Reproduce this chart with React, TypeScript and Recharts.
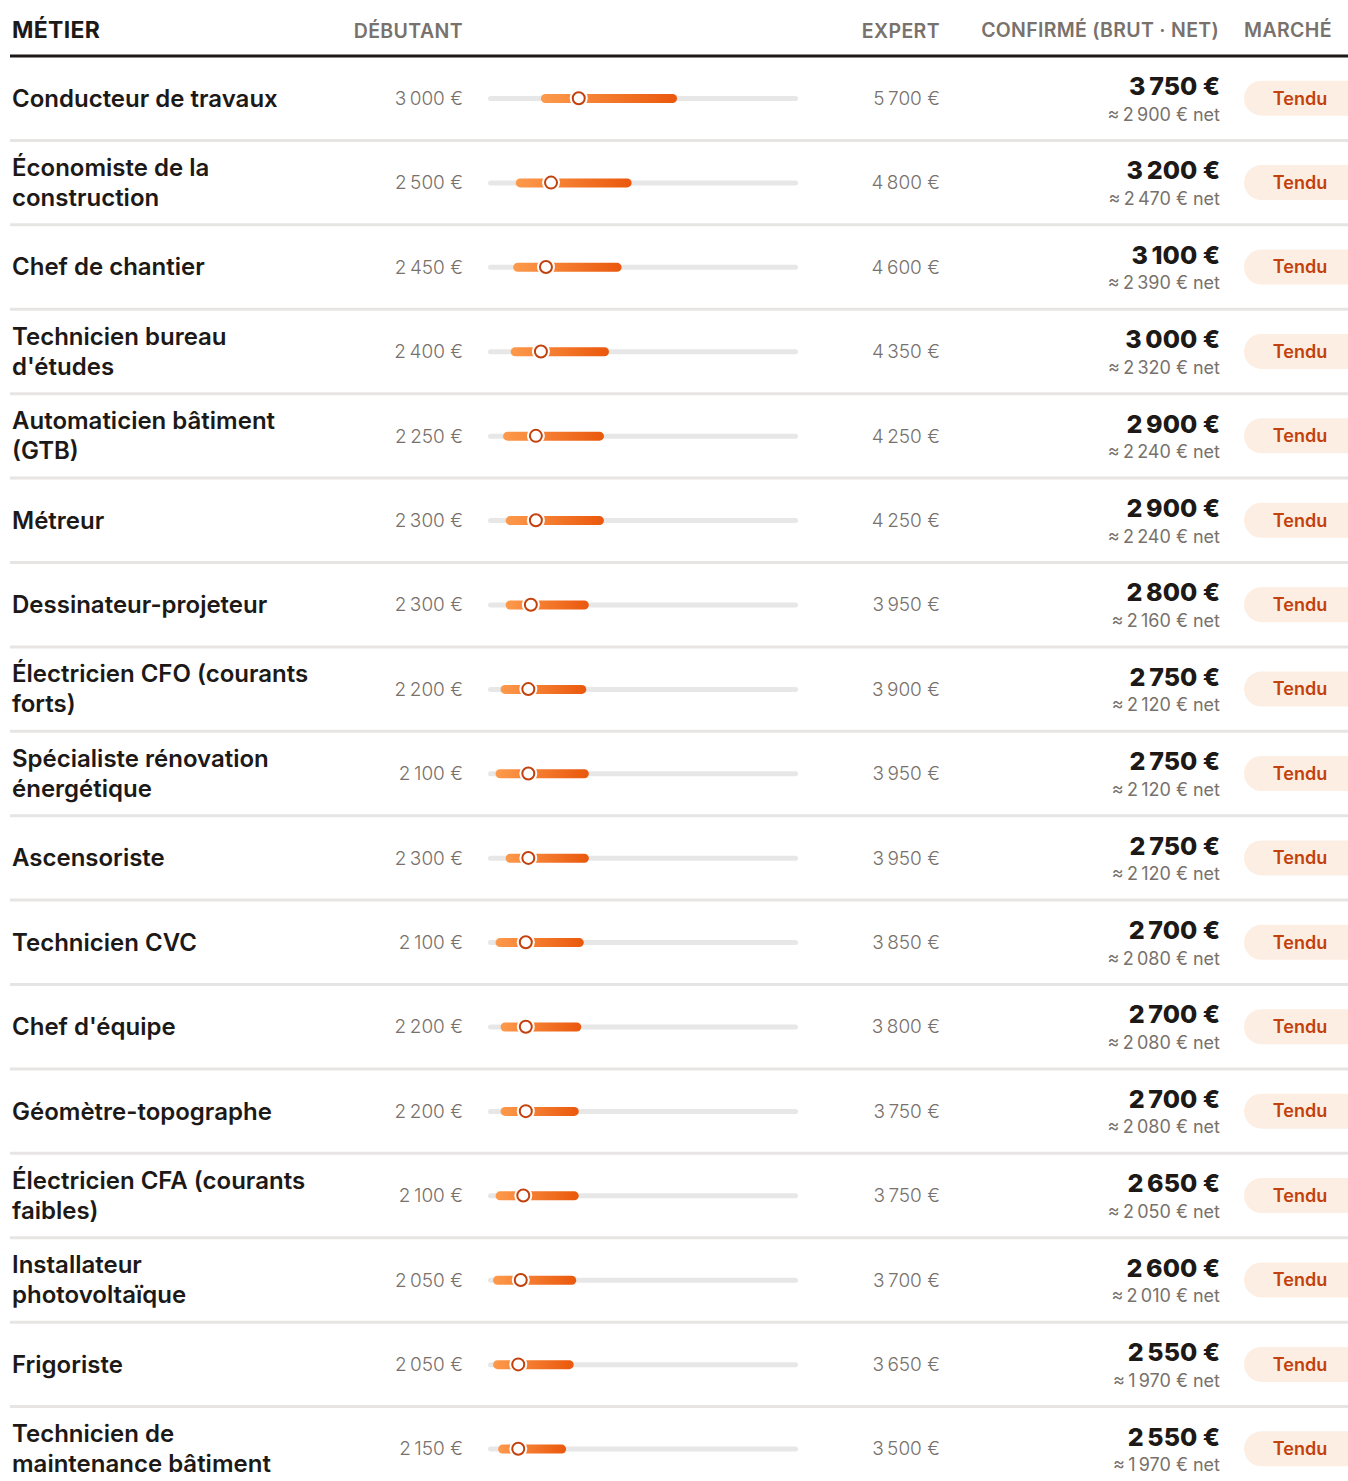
import React from "react";
import { ComposedChart, Bar, Line, XAxis, YAxis } from "recharts";

// salaires bruts mensuels (€)
const metiers = [
  "Conducteur de travaux",
  "Économiste de la construction",
  "Chef de chantier",
  "Technicien bureau d'études",
  "Automaticien bâtiment (GTB)",
  "Métreur",
  "Dessinateur-projeteur",
  "Électricien CFO (courants forts)",
  "Spécialiste rénovation énergétique",
  "Ascensoriste",
  "Technicien CVC",
  "Chef d'équipe",
  "Géomètre-topographe",
  "Électricien CFA (courants faibles)",
  "Installateur photovoltaïque",
  "Frigoriste",
  "Technicien de maintenance bâtiment",
];
const debutant = [3000, 2500, 2450, 2400, 2250, 2300, 2300, 2200, 2100, 2300, 2100, 2200, 2200, 2100, 2050, 2050, 2150];
const expert = [5700, 4800, 4600, 4350, 4250, 4250, 3950, 3900, 3950, 3950, 3850, 3800, 3750, 3750, 3700, 3650, 3500];
const confirme = [3750, 3200, 3100, 3000, 2900, 2900, 2800, 2750, 2750, 2750, 2700, 2700, 2700, 2650, 2600, 2550, 2550];
const confirmeNet = [2900, 2470, 2390, 2320, 2240, 2240, 2160, 2120, 2120, 2120, 2080, 2080, 2080, 2050, 2010, 1970, 1970];
const marche = metiers.map(() => "Tendu");

const SCALE_MIN = 1950;
const SCALE_MAX = 8100;

const data = metiers.map((metier, i) => ({
  metier,
  debutant: debutant[i],
  expert: expert[i],
  range: [debutant[i], expert[i]],
  confirme: confirme[i],
  net: confirmeNet[i],
  marche: marche[i],
}));
const byName: Record<string, (typeof data)[number]> = {};
data.forEach((d) => (byName[d.metier] = d));

const W = 1348;
const H = 1491;
const HEAD = 56;
const BAND = (H - HEAD) / data.length;

const FONT = "Inter, 'Noto Sans', sans-serif";
const DARK = "#1c1917";
const GREY = "#78716c";
const ORANGE_DARK = "#c2410c";

const LABEL_SIZE = 24;
const LABEL_WEIGHT = 600;
const LABEL_MAX_W = 304;
const LINE_H = 30;

const fmt = new Intl.NumberFormat("fr-FR", { maximumFractionDigits: 0 });
const eur = (v: number) => `${fmt.format(v)}\u00a0€`;

let ctx: CanvasRenderingContext2D | null = null;
const measure = (s: string) => {
  if (!ctx) ctx = document.createElement("canvas").getContext("2d");
  if (!ctx) return s.length * LABEL_SIZE * 0.55;
  ctx.font = `${LABEL_WEIGHT} ${LABEL_SIZE}px Inter`;
  return ctx.measureText(s).width;
};
const wrap = (s: string) => {
  const lines: string[] = [];
  let cur = "";
  s.split(" ").forEach((w) => {
    const test = cur ? `${cur} ${w}` : w;
    if (cur && measure(test) > LABEL_MAX_W) {
      lines.push(cur);
      cur = w;
    } else cur = test;
  });
  if (cur) lines.push(cur);
  return lines;
};

const Header = () => (
  <g fontFamily={FONT}>
    <text x={12} y={30} dy="0.35em" fontSize={23} fontWeight={700} fill={DARK} letterSpacing={0.3}>
      MÉTIER
    </text>
    <text x={463} y={31} dy="0.35em" textAnchor="end" fontSize={19.5} fontWeight={600} fill={GREY} letterSpacing={0.4}>
      DÉBUTANT
    </text>
    <text x={940} y={31} dy="0.35em" textAnchor="end" fontSize={19.5} fontWeight={600} fill={GREY} letterSpacing={0.4}>
      EXPERT
    </text>
    <text x={1219} y={30} dy="0.35em" textAnchor="end" fontSize={19.5} fontWeight={600} fill={GREY} letterSpacing={0.3}>
      CONFIRMÉ (BRUT · NET)
    </text>
    <text x={1244} y={30} dy="0.35em" fontSize={19.5} fontWeight={600} fill={GREY} letterSpacing={0.4}>
      MARCHÉ
    </text>
    <line x1={10} x2={W} y1={HEAD} y2={HEAD} stroke={DARK} strokeWidth={3} />
  </g>
);

const RowTick = (props: any) => {
  const { y, payload } = props;
  const row = byName[payload.value];
  if (!row) return null;
  const lines = wrap(row.metier);
  const top = y - ((lines.length - 1) * LINE_H) / 2;
  return (
    <g fontFamily={FONT}>
      <line x1={10} x2={W} y1={y + BAND / 2} y2={y + BAND / 2} stroke="#e7e5e4" strokeWidth={3} />
      <text x={12} y={top} fontSize={LABEL_SIZE} fontWeight={LABEL_WEIGHT} fill={DARK}>
        {lines.map((l, i) => (
          <tspan key={i} x={12} dy={i === 0 ? "0.35em" : LINE_H}>
            {l}
          </tspan>
        ))}
      </text>
      <text x={463} y={y} dy="0.35em" textAnchor="end" fontSize={19} fontWeight={300} fill={GREY}>
        {eur(row.debutant)}
      </text>
      <text x={940} y={y} dy="0.35em" textAnchor="end" fontSize={19} fontWeight={300} fill={GREY}>
        {eur(row.expert)}
      </text>
      <text x={1220} y={y - 12} dy="0.35em" textAnchor="end" fontSize={25} fontWeight={800} fill={DARK}>
        {eur(row.confirme)}
      </text>
      <text x={1220} y={y + 16} dy="0.35em" textAnchor="end" fontSize={18} fontWeight={400} fill={GREY}>
        {`≈\u202f${eur(row.net)} net`}
      </text>
      <rect x={1244} y={y - 17.5} width={130} height={35} rx={17.5} fill="#fdeee3" />
      <text x={1300} y={y} dy="0.35em" textAnchor="middle" fontSize={18} fontWeight={600} fill={ORANGE_DARK}>
        {row.marche}
      </text>
    </g>
  );
};

const Track = (p: any) => (
  <rect x={p.x} y={p.y + p.height / 2 - 2.5} width={p.width} height={5} rx={2.5} fill="#e7e7e7" />
);

const RangeBar = (p: any) => (
  <rect x={p.x} y={p.y} width={Math.max(p.width, 0)} height={p.height} rx={p.height / 2} fill="url(#rangeGrad)" />
);

const Knob = (p: any) => {
  if (p.cx == null || p.cy == null) return null;
  return (
    <g key={`knob-${p.index}`}>
      <circle cx={p.cx} cy={p.cy} r={9} fill="#fff" />
      <circle cx={p.cx} cy={p.cy} r={6} fill="#fff" stroke={ORANGE_DARK} strokeWidth={2} />
    </g>
  );
};

export default function App() {
  return (
    <div
      style={{
        position: "absolute",
        left: 0,
        top: 0,
        width: W,
        height: 1481,
        overflow: "hidden",
        background: "#fff",
      }}
    >
      <ComposedChart
        layout="vertical"
        width={W}
        height={H}
        data={data}
        margin={{ top: 0, right: W - 798, bottom: 0, left: 0 }}
        barCategoryGap={0}
      >
        <defs>
          <linearGradient id="rangeGrad" x1="0" y1="0" x2="1" y2="0">
            <stop offset="0%" stopColor="#fd9a4c" />
            <stop offset="100%" stopColor="#ea580c" />
          </linearGradient>
        </defs>
        <XAxis
          type="number"
          orientation="top"
          domain={[SCALE_MIN, SCALE_MAX]}
          allowDataOverflow
          height={HEAD}
          axisLine={false}
          tickLine={false}
          tick={false}
          label={<Header />}
        />
        <YAxis
          type="category"
          dataKey="metier"
          width={488}
          axisLine={false}
          tickLine={false}
          interval={0}
          tick={(p: any) => <RowTick {...p} />}
        />
        <Bar
          dataKey="range"
          barSize={9}
          background={(p: any) => <Track {...p} />}
          shape={(p: any) => <RangeBar {...p} />}
          isAnimationActive={false}
        />
        <Line
          dataKey="confirme"
          stroke="none"
          dot={(p: any) => <Knob {...p} />}
          activeDot={false}
          isAnimationActive={false}
        />
      </ComposedChart>
    </div>
  );
}
